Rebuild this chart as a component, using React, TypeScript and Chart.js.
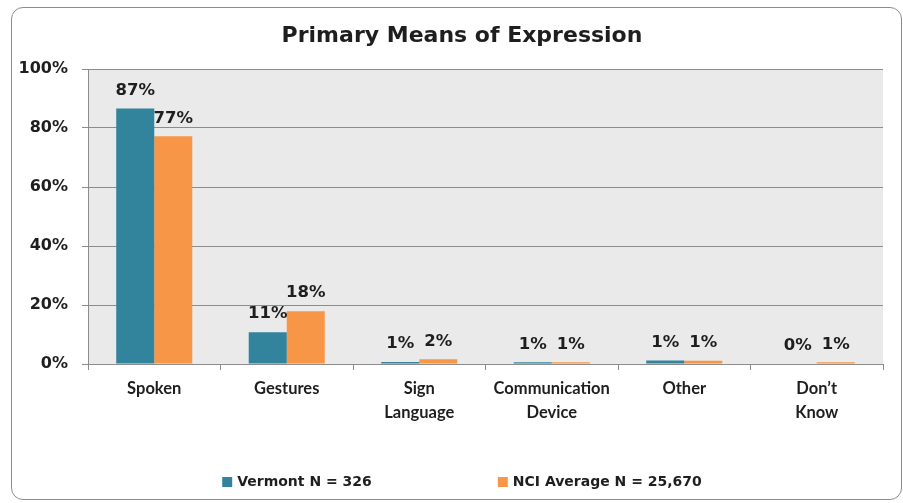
import React, { useEffect, useRef } from "react";
import { Chart, registerables } from "chart.js";

Chart.register(...registerables);

const categories: (string | string[])[] = [
  "Spoken",
  "Gestures",
  ["Sign", "Language"],
  ["Communication", "Device"],
  "Other",
  ["Don\u2019t", "Know"],
];
const vermontLabel = "Vermont N = 326";
const nciLabel = "NCI Average N = 25,670";
const vermontValues = [86.6, 10.8, 0.7, 0.6, 1.2, 0];
const nciValues = [77.2, 17.9, 1.6, 0.6, 1.1, 0.6];
const yTicks = [0, 20, 40, 60, 80, 100];

const TEAL = "#31849B";
const ORANGE = "#F79646";
const TEXT = "#1e1e1e";
const WIDE = '"DejaVu Sans"';
const CAT = "Lato";

const bgPlugin = {
  id: "plotBg",
  beforeDraw(chart: any) {
    const { ctx, chartArea } = chart;
    ctx.save();
    ctx.fillStyle = "#EAEAEA";
    ctx.fillRect(chartArea.left, chartArea.top, chartArea.right - chartArea.left, chartArea.bottom - chartArea.top);
    ctx.restore();
  },
};

const labelPlugin = {
  id: "valueLabels",
  afterDatasetsDraw(chart: any) {
    const { ctx } = chart;
    ctx.save();
    ctx.font = `bold 16.5px ${WIDE}`;
    ctx.fillStyle = TEXT;
    ctx.textAlign = "center";
    ctx.textBaseline = "middle";
    chart.data.datasets.forEach((ds: any, i: number) => {
      const meta = chart.getDatasetMeta(i);
      meta.data.forEach((el: any, j: number) => {
        const v = ds.data[j];
        ctx.fillText(Math.round(v) + "%", el.x, el.y - 18);
      });
    });
    ctx.restore();
  },
};

const legendPlugin = {
  id: "customLegend",
  afterDraw(chart: any) {
    const { ctx } = chart;
    const y = chart.chartArea.bottom + 118;
    const center = (chart.scales.y.left + chart.chartArea.right) / 2;
    ctx.save();
    ctx.font = `bold 14px ${WIDE}`;
    ctx.textBaseline = "middle";
    ctx.textAlign = "left";
    const box = 10;
    const gap = 5;
    const spacing = 126;
    const items = chart.data.datasets.map((ds: any) => ({
      text: ds.label,
      color: ds.backgroundColor,
      w: box + gap + ctx.measureText(ds.label).width,
    }));
    const total = items.reduce((s: number, it: any) => s + it.w, 0) + spacing * (items.length - 1);
    let x = center - total / 2;
    items.forEach((it: any) => {
      ctx.fillStyle = it.color;
      ctx.fillRect(x, y - box / 2, box, box);
      ctx.fillStyle = TEXT;
      ctx.fillText(it.text, x + box + gap, y);
      x += it.w + spacing;
    });
    ctx.restore();
  },
};

export default function App() {
  const ref = useRef<HTMLCanvasElement>(null);
  useEffect(() => {
    if (!ref.current) return;
    const chart = new Chart(ref.current, {
      type: "bar",
      data: {
        labels: categories as any,
        datasets: [
          { label: vermontLabel, data: vermontValues, backgroundColor: TEAL, categoryPercentage: 0.574, barPercentage: 1 },
          { label: nciLabel, data: nciValues, backgroundColor: ORANGE, categoryPercentage: 0.574, barPercentage: 1 },
        ],
      },
      options: {
        responsive: false,
        animation: false,
        devicePixelRatio: 1,
        layout: { padding: { left: 41, right: 20, top: 14, bottom: 39 } },
        plugins: {
          legend: { display: false },
          tooltip: { enabled: false },
          title: {
            display: true,
            text: "Primary Means of Expression",
            color: TEXT,
            font: { family: WIDE, size: 22, weight: "bold", lineHeight: 1.2 },
            padding: { top: 9, bottom: 19.6 },
          },
        },
        scales: {
          x: {
            grid: { display: true, drawOnChartArea: false, drawTicks: true, tickLength: 6, offset: true, color: "#8c8c8c" },
            border: { color: "#8c8c8c" },
            ticks: {
              color: TEXT,
              font: { family: CAT, size: 16.5, weight: "bold", lineHeight: 1.5 },
              padding: 6,
              maxRotation: 0,
              autoSkip: false,
            },
            afterFit(scale: any) {
              scale.height = 100;
            },
          },
          y: {
            min: 0,
            max: 100,
            afterBuildTicks(scale: any) {
              scale.ticks = yTicks.map((v) => ({ value: v }));
            },
            grid: { color: "#8c8c8c", tickLength: 6 },
            border: { color: "#8c8c8c" },
            ticks: {
              color: TEXT,
              font: { family: WIDE, size: 16, weight: "bold" },
              padding: 14,
              callback: (v: any) => v + "%",
            },
            afterFit(scale: any) {
              scale.width = 47;
              scale._computeLabelArea = () => undefined;
            },
          },
        },
      },
      plugins: [bgPlugin, labelPlugin, legendPlugin],
    });
    return () => chart.destroy();
  }, []);

  return (
    <div style={{ position: "absolute", left: 0, top: 0, width: 903, height: 503, background: "#fff" }}>
      <div
        style={{
          position: "absolute",
          left: 11,
          top: 7,
          width: 891,
          height: 493,
          border: "1px solid #8c8c8c",
          borderRadius: 12,
          boxSizing: "border-box",
        }}
      />
      <canvas ref={ref} width={903} height={503} style={{ position: "absolute", left: 0, top: 0, display: "block" }} />
    </div>
  );
}
